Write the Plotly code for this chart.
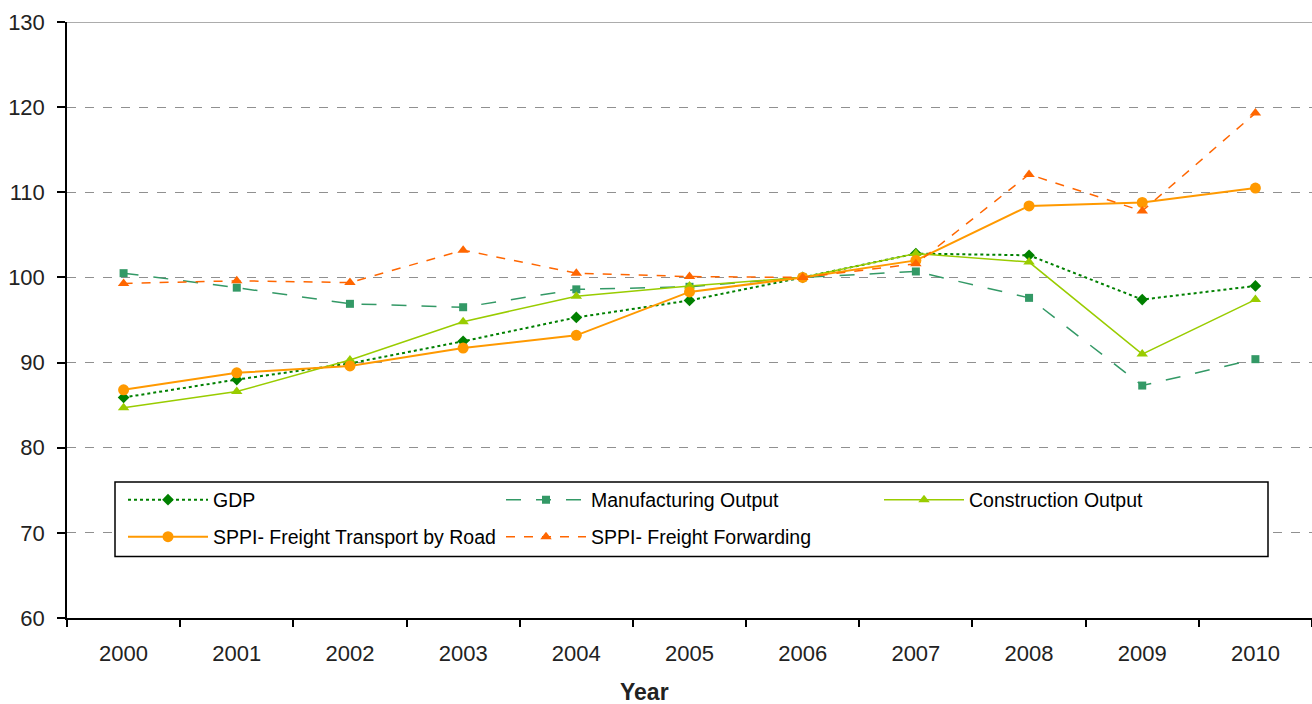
import plotly.graph_objects as go

years = ["2000", "2001", "2002", "2003", "2004", "2005", "2006", "2007", "2008", "2009", "2010"]
gdp = [85.9, 88.0, 89.9, 92.5, 95.3, 97.3, 100.0, 102.8, 102.6, 97.4, 99.0]
manufacturing = [100.5, 98.8, 96.9, 96.5, 98.6, 98.9, 100.0, 100.7, 97.6, 87.3, 90.4]
construction = [84.7, 86.6, 90.3, 94.8, 97.8, 99.0, 100.0, 102.8, 101.8, 91.0, 97.4]
sppi_road = [86.8, 88.8, 89.6, 91.7, 93.2, 98.3, 100.0, 102.0, 108.4, 108.8, 110.5]
sppi_fwd = [99.3, 99.6, 99.4, 103.2, 100.5, 100.1, 100.0, 101.6, 112.1, 107.8, 119.3]
y_ticks = [60, 70, 80, 90, 100, 110, 120, 130]

fig = go.Figure()
fig.add_trace(go.Scatter(x=years, y=gdp, name="GDP", mode="lines+markers",
                         line=dict(color="#008000", width=2, dash="dot"),
                         marker=dict(symbol="diamond", size=9, color="#008000"),
                         legend="legend"))
fig.add_trace(go.Scatter(x=years, y=manufacturing, name="Manufacturing Output", mode="lines+markers",
                         line=dict(color="#339966", width=1.5, dash="longdash"),
                         marker=dict(symbol="square", size=8, color="#339966"),
                         legend="legend"))
fig.add_trace(go.Scatter(x=years, y=construction, name="Construction Output", mode="lines+markers",
                         line=dict(color="#99CC00", width=1.5),
                         marker=dict(symbol="triangle-up", size=10, color="#99CC00"),
                         legend="legend"))
fig.add_trace(go.Scatter(x=years, y=sppi_road, name="SPPI- Freight Transport by Road", mode="lines+markers",
                         line=dict(color="#FF9900", width=2),
                         marker=dict(symbol="circle", size=11, color="#FF9900"),
                         legend="legend2"))
fig.add_trace(go.Scatter(x=years, y=sppi_fwd, name="SPPI- Freight Forwarding", mode="lines+markers",
                         line=dict(color="#FF6600", width=1.5, dash="dash"),
                         marker=dict(symbol="triangle-up", size=10, color="#FF6600"),
                         legend="legend2"))

L, R, T, B = 67, 0, 22, 86
W, H = 1312, 704
pw, ph = W - L - R, H - T - B

def px_x(p):
    return (p - L) / pw

def px_y(p):
    return (H - B - p) / ph

legend_common = dict(
    orientation="h", xanchor="left", yanchor="middle",
    x=px_x(123), itemwidth=80, entrywidth=283, entrywidthmode="pixels",
    bgcolor="rgba(0,0,0,0)", borderwidth=0,
    font=dict(family="Liberation Sans, Arial, sans-serif", size=19.5, color="#000000"),
    traceorder="normal", itemclick=False,
)

fig.update_layout(
    width=W, height=H,
    margin=dict(l=L, r=R, t=T, b=B),
    paper_bgcolor="white", plot_bgcolor="white",
    font=dict(family="Liberation Sans, Arial, sans-serif", size=22, color="#222222"),
    showlegend=True,
    legend=dict(legend_common, y=px_y(500)),
    legend2=dict(legend_common, y=px_y(537)),
    xaxis=dict(type="category", range=[-0.5, 10.5], tickson="boundaries",
               ticks="outside", ticklen=7, tickcolor="#000000", tickwidth=1.5,
               ticklabelstandoff=15,
               showline=True, linecolor="#000000", linewidth=1.5,
               showgrid=False, zeroline=False, fixedrange=True),
    yaxis=dict(range=[60, 130], tickvals=y_ticks, ticks="outside", ticklen=8,
               tickcolor="#000000", tickwidth=1.5, ticklabelstandoff=8,
               showline=True, linecolor="#000000", linewidth=1.5,
               showgrid=True, gridcolor="#909090", griddash="dash", gridwidth=1.2,
               zeroline=False, fixedrange=True),
    shapes=[
        dict(type="line", xref="paper", yref="y", x0=0, x1=1, y0=130, y1=130,
             line=dict(color="#909090", width=1.5), layer="above"),
        dict(type="rect", xref="paper", yref="paper",
             x0=px_x(115), x1=px_x(1268), y0=px_y(556.5), y1=px_y(482),
             fillcolor="white", line=dict(color="#000000", width=1.5), layer="above"),
    ],
    annotations=[
        dict(text="<b>Year</b>", xref="paper", yref="paper", x=px_x(644), y=px_y(692),
             xanchor="center", yanchor="middle", showarrow=False,
             font=dict(family="Liberation Sans, Arial, sans-serif", size=23, color="#222222")),
    ],
)

fig.write_html("out.html", config={"displayModeBar": False},
               post_script="document.body.style.margin='0';document.body.style.padding='0';")
